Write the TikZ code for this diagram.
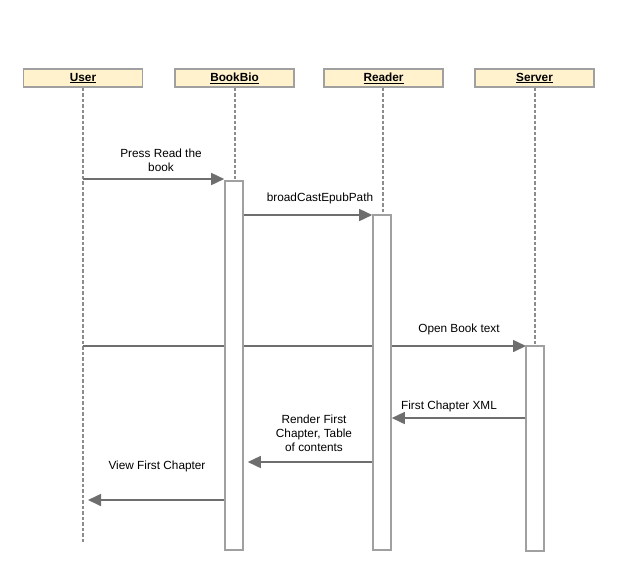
\documentclass[tikz,border=0pt]{standalone}
\usepackage{fontspec}
\setmainfont{Liberation Sans}
\usetikzlibrary{arrows.meta}
\definecolor{headfill}{HTML}{FFF2CC}
\definecolor{boxline}{HTML}{A0A0A0}
\definecolor{msgline}{HTML}{6E6E6E}
\definecolor{lifeline}{HTML}{8C8C8C}
\tikzset{
  head/.style={draw=boxline, line width=1.6pt, fill=headfill, minimum width=119pt, minimum height=18pt, inner sep=0pt, font=\fontsize{11.8}{13}\selectfont\bfseries},
  life/.style={draw=lifeline, line width=1.1pt, dash pattern=on 3.5pt off 2pt},
  act/.style={draw=boxline, line width=1.6pt, fill=white, minimum width=18pt, inner sep=0pt},
  msg/.style={draw=msgline, line width=1.6pt, -{Triangle[length=13pt,width=12pt]}},
  lbl/.style={font=\fontsize{11.8}{14}\selectfont, align=center, inner sep=0pt}
}
\begin{document}
\begin{tikzpicture}[x=1pt,y=-1pt]
\useasboundingbox (0,0) rectangle (617,571);
% headers
\node[head] (user) at (83,78) {\underline{User}};
\node[head] (bookbio) at (234.5,78) {\underline{BookBio}};
\node[head] (reader) at (383.5,78) {\underline{Reader}};
\node[head] (server) at (534.5,78) {\underline{Server}};
% lifeline ends
\coordinate (userend) at (83,543);
\coordinate (bookend) at (235,548);
\coordinate (readend) at (383,548);
\coordinate (servend) at (535,548);
\draw[life] (user.south) -- (userend);
\draw[life] (bookbio.south -| bookend) -- (bookend);
\draw[life] (reader.south -| readend) -- (readend);
\draw[life] (server.south -| servend) -- (servend);
% message y-levels
\coordinate (y1) at (0,179);
\coordinate (y2) at (0,215);
\coordinate (y3) at (0,346);
\coordinate (y4) at (0,418);
\coordinate (y5) at (0,462);
\coordinate (y6) at (0,500);
\coordinate (a3w) at (526,0);
% long message behind activation boxes
\draw[msg] (userend |- y3) -- (a3w |- y3);
% activation boxes
\node[act, minimum height=369pt] (act1) at (234,365.5) {};
\node[act, minimum height=335pt] (act2) at (382,382.5) {};
\node[act, minimum height=205pt] (act3) at (535,448.5) {};
% messages
\draw[msg] (userend |- y1) -- (act1.west |- y1);
\draw[msg] (act1.east |- y2) -- (act2.west |- y2);
\draw[msg] (act3.west |- y4) -- (act2.east |- y4);
\draw[msg] (act2.west |- y5) -- ([xshift=4pt]act1.east |- y5);
\draw[msg] (act1.west |- y6) -- ([xshift=5pt]userend |- y6);
% labels
\node[lbl] (l1) at (161,160) {Press Read the\\book};
\node[lbl] (l2) at (320,198) {broadCastEpubPath};
\node[lbl] (l3) at (459,329) {Open Book text};
\node[lbl] (l4) at (449,406) {First Chapter XML};
\node[lbl] (l5) at (314,433) {Render First\\Chapter, Table\\of contents};
\node[lbl] (l6) at (157,466) {View First Chapter};
\end{tikzpicture}
\end{document}
